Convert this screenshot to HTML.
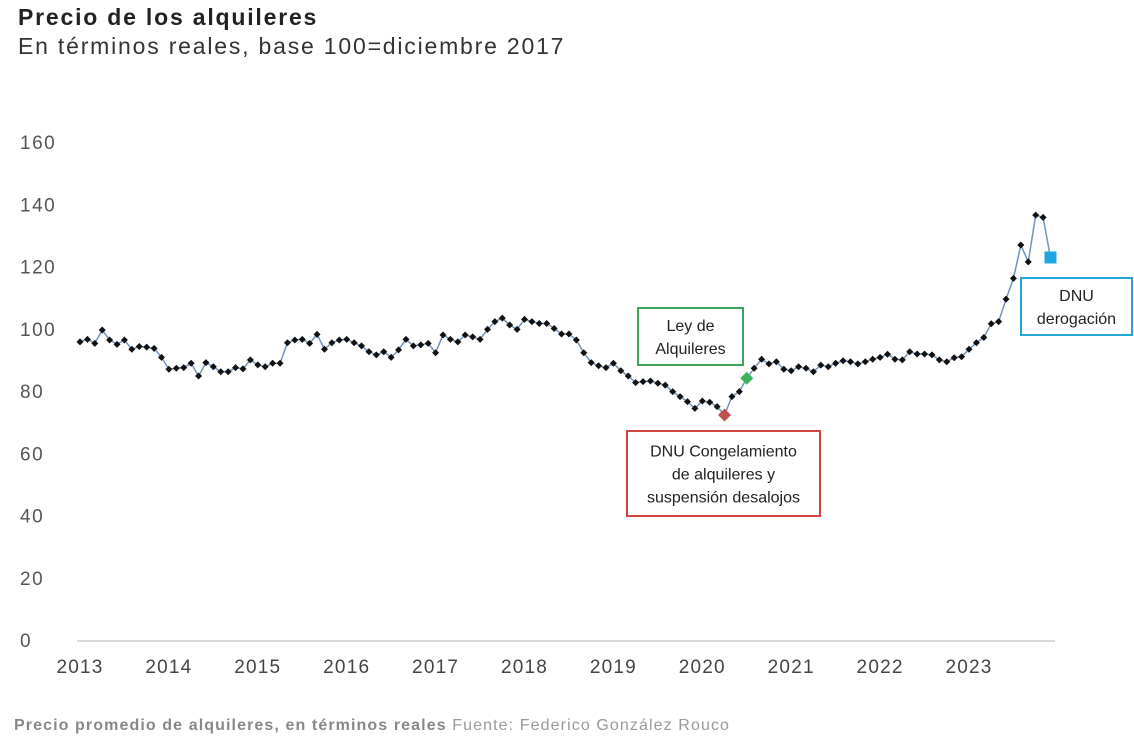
<!DOCTYPE html>
<html><head><meta charset="utf-8">
<style>
body{margin:0;background:#fff;width:1134px;height:739px;overflow:hidden;font-family:"Liberation Sans",sans-serif;}
#title{position:absolute;left:18px;top:4px;font-size:23px;font-weight:bold;color:#222;letter-spacing:1.8px;}
#subtitle{position:absolute;left:18px;top:33px;font-size:23px;color:#333;letter-spacing:1.8px;}
#footer{position:absolute;left:14px;top:717px;font-size:16px;color:#999;letter-spacing:1.1px;}
#footer b{color:#888;}
svg{position:absolute;left:0;top:0;}
</style></head><body>
<div id="title">Precio de los alquileres</div>
<div id="subtitle">En términos reales, base 100=diciembre 2017</div>
<svg id="chart" width="1134" height="739"></svg>
<div id="footer"><b>Precio promedio de alquileres, en términos reales</b> Fuente: Federico González Rouco</div>
<script>
const years=["2013","2014","2015","2016","2017","2018","2019","2020","2021","2022","2023"];
const yTicks=[0,20,40,60,80,100,120,140,160];
const values=[
95.8,96.6,95.3,99.6,96.4,95.0,96.4,93.4,94.3,94.1,93.7,90.8,
87.0,87.3,87.5,88.9,84.8,89.1,87.8,86.2,86.2,87.5,87.1,90.0,
88.4,87.8,88.9,88.9,95.5,96.4,96.6,95.3,98.2,93.4,95.5,96.4,
96.6,95.5,94.5,92.6,91.6,92.6,90.8,93.2,96.6,94.5,94.8,95.3,
92.3,98.0,96.6,95.8,98.0,97.4,96.6,99.8,102.3,103.4,101.2,99.8,
103.0,102.3,101.7,101.7,100.1,98.3,98.3,96.4,92.3,89.1,88.1,87.5,
88.9,86.5,84.8,82.7,83.0,83.2,82.5,81.9,79.8,78.2,76.6,74.4,
76.8,76.4,75.0,72.3,78.2,79.8,84.1,87.3,90.2,88.7,89.4,87.0,
86.5,87.8,87.3,86.2,88.3,87.8,88.9,89.7,89.4,88.7,89.4,90.2,
90.8,91.8,90.2,90.0,92.6,91.9,91.9,91.6,90.0,89.4,90.7,91.0,
93.4,95.5,97.2,101.6,102.3,109.5,116.2,126.9,121.5,136.5,135.8,122.9];
const specials=[{i:87,color:"#c0504d",shape:"diamond",name:"dnu-freeze-marker"},{i:90,color:"#3cb55e",shape:"diamond",name:"ley-alquileres-marker"},{i:131,color:"#1ea7e1",shape:"square",name:"dnu-derogation-marker"}];
const NS="http://www.w3.org/2000/svg";
const svg=document.getElementById('chart');
const x0=80,pxYear=88.9;
function xs(i){return x0+i*pxYear/12;}
function ys(v){return 640-v*3.1125;}
function el(t,a){const e=document.createElementNS(NS,t);for(const k in a)e.setAttribute(k,a[k]);svg.appendChild(e);return e;}
yTicks.forEach(v=>{const t=el('text',{x:20,y:ys(v)+7,'font-size':19,fill:'#555','letter-spacing':1.5});t.textContent=v;

});
const ax=el('line',{x1:77,x2:1055,y1:641,y2:641,stroke:'#d9d9d9','stroke-width':2});


years.forEach((y,k)=>{const t=el('text',{x:xs(k*12),y:673,'font-size':19,fill:'#444','text-anchor':'middle','letter-spacing':1.2});t.textContent=y;

});
const pl=el('polyline',{points:values.map((v,i)=>xs(i)+','+ys(v)).join(' '),fill:'none',stroke:'#6f94bd','stroke-width':1.5});


values.forEach((v,i)=>{if(specials.some(s=>s.i===i))return;const cx=xs(i),cy=ys(v);
const p=el('polygon',{points:`${cx},${cy-3.5} ${cx+3.5},${cy} ${cx},${cy+3.5} ${cx-3.5},${cy}`,fill:'#111'});

});
specials.forEach(s=>{const cx=xs(s.i),cy=ys(values[s.i]);let p;
if(s.shape==='square'){p=el('rect',{x:cx-6,y:cy-6,width:12,height:12,fill:s.color});}
else{p=el('polygon',{points:`${cx},${cy-6.5} ${cx+6.5},${cy} ${cx},${cy+6.5} ${cx-6.5},${cy}`,fill:s.color});}

});
function box(x,y,w,h,c,lines,name){const r=el('rect',{x:x,y:y,width:w,height:h,fill:'#fff',stroke:c,'stroke-width':2});


lines.forEach((l,k)=>{const t=el('text',{x:x+w/2,y:y+h/2+(k-(lines.length-1)/2)*23+6,'font-size':16,fill:'#222','text-anchor':'middle'});t.textContent=l;

});}
box(638,308,105,57,'#3aa55a',['Ley de','Alquileres'],'ley-alquileres-annotation');
box(627,431,193,85,'#d0443f',['DNU Congelamiento','de alquileres y','suspensión desalojos'],'dnu-freeze-annotation');
box(1021,278,111,57,'#22a8d8',['DNU','derogación'],'dnu-derogation-annotation');
</script>
</body></html>
